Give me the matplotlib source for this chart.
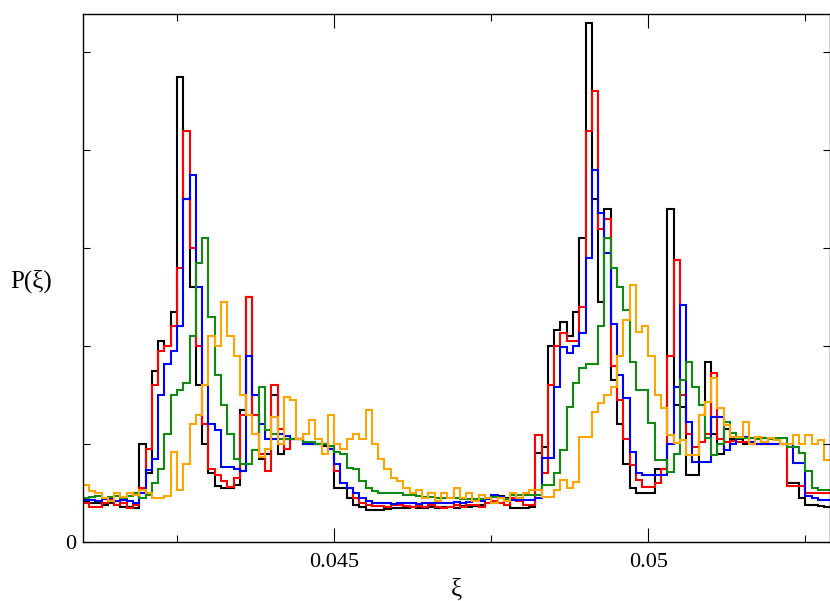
import numpy as np
import matplotlib.pyplot as plt

plt.rcParams['font.family'] = ['Liberation Serif', 'DejaVu Serif']

# histogram bins: 0.0001 wide, starting at xi = 0.041
XI_START = 0.041
BIN_WIDTH = 0.0001

black = [0.42, 0.40, 0.40, 0.38, 0.40, 0.38, 0.36, 0.36, 0.35, 1.00,
         0.70, 1.75, 2.05, 2.00, 2.35, 4.75, 3.50, 2.60, 1.60, 1.00,
         0.70, 0.57, 0.55, 0.55, 0.58, 1.35, 2.50, 1.30, 0.85, 0.90,
         1.50, 0.90, 1.05, 1.05, 1.05, 1.00, 1.00, 1.00, 0.98, 0.95,
         0.55, 0.55, 0.45, 0.38, 0.36, 0.33, 0.33, 0.33, 0.34, 0.35,
         0.35, 0.35, 0.36, 0.35, 0.35, 0.36, 0.35, 0.36, 0.36, 0.35,
         0.37, 0.36, 0.37, 0.38, 0.40, 0.47, 0.47, 0.45, 0.35, 0.35,
         0.35, 0.36, 0.91, 0.97, 2.00, 2.16, 2.25, 2.10, 2.35, 3.10,
         5.30, 3.50, 2.45, 3.40, 1.65, 1.20, 0.80, 0.55, 0.50, 0.50,
         0.50, 0.75, 0.75, 3.40, 1.40, 1.38, 0.68, 0.68, 1.30, 1.84,
         1.10, 0.90, 1.15, 1.05, 1.05, 1.00, 1.00, 1.00, 1.02, 1.00,
         1.00, 1.00, 0.60, 0.60, 0.45, 0.38, 0.38, 0.37, 0.36, 0.36]

red = [0.40, 0.36, 0.36, 0.40, 0.43, 0.38, 0.40, 0.35, 0.38, 0.55,
       0.95, 1.60, 1.95, 2.00, 2.20, 2.80, 4.20, 3.00, 2.00, 1.20,
       0.75, 0.68, 0.62, 0.56, 0.65, 1.30, 2.50, 1.30, 0.90, 0.72,
       1.60, 1.15, 0.95, 1.05, 1.05, 1.00, 1.00, 1.00, 1.00, 0.95,
       0.72, 0.60, 0.55, 0.45, 0.40, 0.38, 0.37, 0.37, 0.36, 0.38,
       0.38, 0.37, 0.36, 0.37, 0.36, 0.38, 0.36, 0.35, 0.36, 0.38,
       0.36, 0.38, 0.38, 0.36, 0.40, 0.42, 0.40, 0.38, 0.45, 0.42,
       0.38, 0.38, 1.09, 0.70, 1.60, 2.00, 2.13, 2.05, 2.05, 2.40,
       4.20, 4.60, 3.20, 3.30, 1.80, 1.45, 1.05, 0.79, 0.63, 0.56,
       0.56, 0.60, 0.75, 1.90, 2.88, 1.50, 1.10, 0.97, 1.02, 1.10,
       1.73, 1.05, 1.02, 1.03, 1.02, 1.02, 1.00, 1.00, 1.00, 1.00,
       1.00, 1.00, 0.57, 0.57, 0.57, 0.50, 0.50, 0.50, 0.50, 0.50]

blue = [0.43, 0.43, 0.42, 0.44, 0.45, 0.42, 0.43, 0.42, 0.40, 0.50,
        0.73, 0.85, 1.50, 1.82, 1.95, 2.20, 3.50, 3.75, 2.60, 1.60,
        1.20, 1.14, 0.77, 0.77, 0.75, 0.72, 1.90, 1.50, 1.20, 1.05,
        1.05, 1.10, 1.08, 1.05, 1.05, 1.00, 1.00, 1.00, 1.00, 0.95,
        0.80, 0.60, 0.55, 0.50, 0.45, 0.42, 0.40, 0.40, 0.40, 0.39,
        0.40, 0.40, 0.40, 0.39, 0.40, 0.40, 0.40, 0.40, 0.40, 0.41,
        0.40, 0.41, 0.42, 0.42, 0.44, 0.48, 0.46, 0.43, 0.43, 0.43,
        0.43, 0.43, 0.45, 0.86, 0.86, 1.58, 1.99, 1.93, 2.00, 2.13,
        2.90, 3.80, 3.36, 2.95, 2.23, 1.70, 1.47, 0.92, 0.70, 0.68,
        0.68, 0.68, 0.68, 1.00, 1.58, 2.42, 1.22, 0.82, 0.82, 0.82,
        1.28, 1.28, 0.94, 1.00, 1.07, 1.07, 1.02, 1.00, 1.00, 1.00,
        1.00, 1.00, 1.00, 0.81, 0.81, 0.47, 0.45, 0.43, 0.43, 0.43]

green = [0.45, 0.46, 0.47, 0.45, 0.46, 0.47, 0.45, 0.47, 0.50, 0.45,
         0.48, 0.60, 0.75, 1.10, 1.50, 1.55, 1.62, 2.10, 2.85, 3.10,
         2.30, 1.70, 1.40, 1.10, 0.85, 0.80, 0.80, 0.94, 1.58, 1.14,
         1.10, 1.05, 1.05, 1.05, 1.05, 1.02, 1.02, 1.00, 1.00, 0.98,
         0.92, 0.90, 0.76, 0.75, 0.62, 0.55, 0.52, 0.50, 0.50, 0.50,
         0.50, 0.48, 0.48, 0.47, 0.46, 0.46, 0.45, 0.45, 0.45, 0.45,
         0.44, 0.44, 0.44, 0.44, 0.45, 0.46, 0.45, 0.44, 0.48, 0.48,
         0.48, 0.48, 0.48, 0.58, 0.58, 0.70, 0.94, 1.38, 1.62, 1.78,
         1.82, 1.82, 2.20, 3.10, 2.80, 2.60, 2.37, 1.84, 1.55, 1.55,
         1.21, 0.84, 0.84, 0.71, 0.90, 1.65, 1.84, 1.58, 1.40, 1.06,
         0.89, 1.00, 1.22, 1.11, 1.06, 1.06, 1.06, 1.05, 1.06, 1.05,
         1.06, 1.06, 0.97, 0.97, 0.91, 0.72, 0.55, 0.53, 0.53, 0.50]

orange = [0.58, 0.52, 0.50, 0.45, 0.42, 0.50, 0.46, 0.50, 0.48, 0.53,
          0.50, 0.45, 0.45, 0.47, 0.92, 0.53, 0.80, 1.20, 1.30, 1.60,
          2.10, 2.00, 2.45, 2.10, 1.90, 1.50, 1.30, 1.10, 0.87, 0.95,
          1.28, 1.00, 1.48, 1.45, 1.05, 1.10, 1.25, 1.05, 0.90, 1.30,
          1.00, 0.95, 1.05, 1.10, 1.05, 1.35, 1.00, 0.85, 0.75, 0.65,
          0.62, 0.55, 0.50, 0.53, 0.45, 0.50, 0.42, 0.50, 0.45, 0.55,
          0.45, 0.50, 0.42, 0.48, 0.45, 0.40, 0.45, 0.42, 0.50, 0.45,
          0.50, 0.53, 0.53, 0.46, 0.46, 0.53, 0.63, 0.55, 0.61, 1.07,
          1.07, 1.33, 1.42, 1.50, 1.58, 1.90, 2.27, 2.62, 2.14, 2.20,
          1.90, 1.50, 1.37, 1.09, 1.01, 1.04, 0.89, 0.89, 1.30, 1.43,
          1.67, 1.37, 1.19, 1.07, 1.07, 1.22, 1.00, 1.07, 1.02, 1.06,
          1.04, 1.00, 1.00, 1.09, 1.00, 1.09, 1.00, 1.04, 0.84, 0.84]

series = [(black, 'black'), (red, '#ff0000'), (blue, '#0000ff'),
          (green, '#118a11'), (orange, '#ffa500')]

fig = plt.figure(figsize=(8.3, 6.01), dpi=100)
ax = fig.add_axes([82.7 / 830, 1 - 542 / 601, (830 - 82.7) / 830, (542 - 14) / 601])

for vals, col in series:
    edges = XI_START + BIN_WIDTH * np.arange(len(vals) + 1)
    ax.stairs(vals, edges, color=col, lw=1.5, baseline=None)

ax.set_xlim(0.041, 0.05289)
ax.set_ylim(0, 5.39)

ax.set_xticks([0.045, 0.05])
ax.set_xticklabels(['0.045', '0.05'])
ax.set_xticks([0.0425, 0.0475, 0.0525], minor=True)
ax.set_yticks(range(6))
ax.set_yticklabels(['0', '', '', '', '', ''])

for s in ax.spines.values():
    s.set_linewidth(1.0)
ax.tick_params(which='both', direction='in', top=True, right=True, width=0.8, labelsize=16)
ax.tick_params(axis='x', which='major', length=10, pad=8)
ax.tick_params(axis='x', which='minor', length=5)
ax.tick_params(axis='y', length=5, pad=5)

ax.set_xlabel('ξ', fontsize=18, va='center')
ax.xaxis.set_label_coords(0.5, -0.091)
ax.set_ylabel('P(ξ)', rotation=0, fontsize=18, va='center', ha='center')
ax.yaxis.set_label_coords(-0.069, 0.494)

fig.savefig('out.png', dpi=100)
